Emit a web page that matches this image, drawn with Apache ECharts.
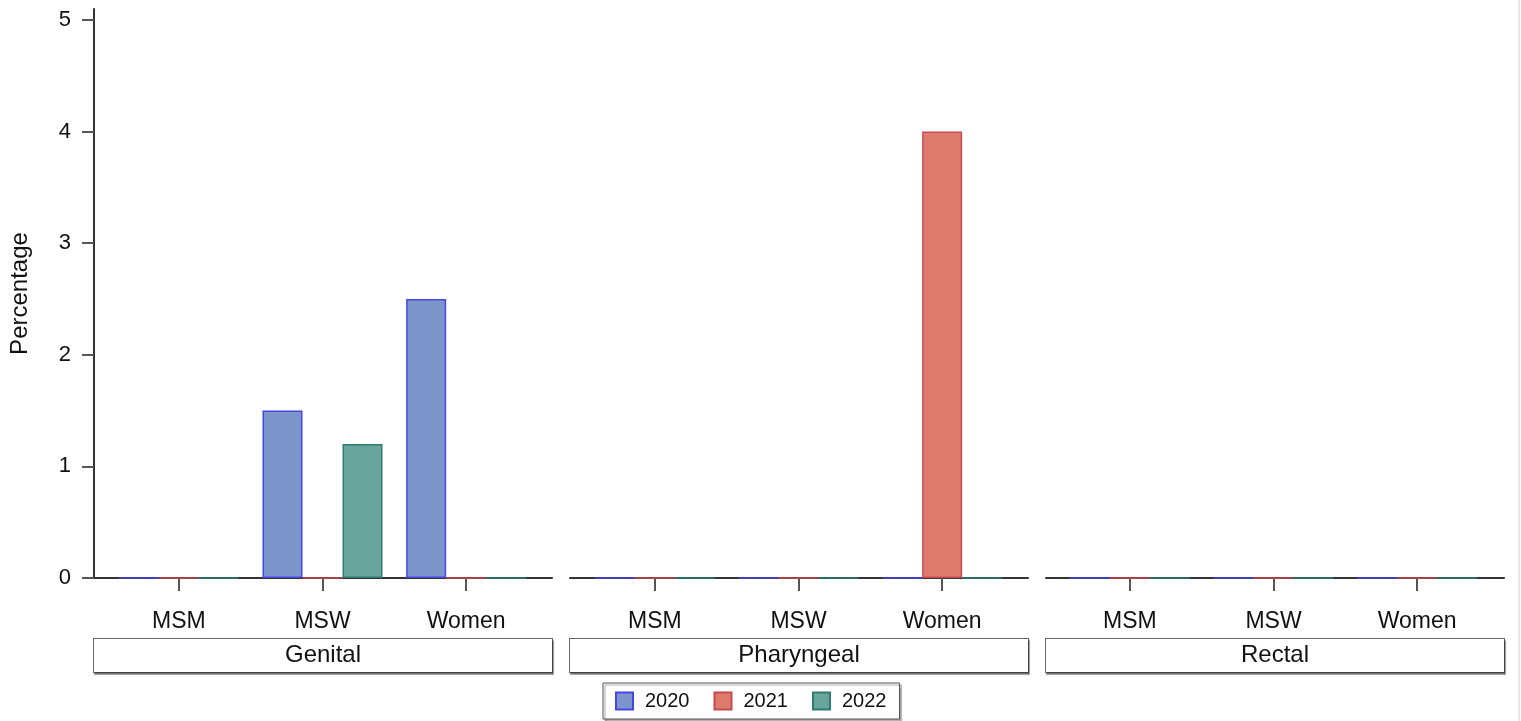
<!DOCTYPE html>
<html>
<head>
<meta charset="utf-8">
<script src="https://cdn.jsdelivr.net/npm/echarts@6/dist/echarts.min.js"></script>
<style>
html,body{margin:0;padding:0;background:#fff;}
#chart{width:1518px;height:721px;border-right:2px solid #e6e6e6;}
</style>
</head>
<body>
<div id="chart"></div>
<script>
// ---- data ----
const categories = ['MSM', 'MSW', 'Women'];
const panels = ['Genital', 'Pharyngeal', 'Rectal'];
const years = ['2020', '2021', '2022'];
const yTicks = [0, 1, 2, 3, 4, 5];

const genital2020 = [0, 1.5, 2.5];
const genital2021 = [0, 0, 0];
const genital2022 = [0, 1.2, 0];
const pharyngeal2020 = [0, 0, 0];
const pharyngeal2021 = [0, 0, 4];
const pharyngeal2022 = [0, 0, 0];
const rectal2020 = [0, 0, 0];
const rectal2021 = [0, 0, 0];
const rectal2022 = [0, 0, 0];

const panelData = [
  [genital2020, genital2021, genital2022],
  [pharyngeal2020, pharyngeal2021, pharyngeal2022],
  [rectal2020, rectal2021, rectal2022]
];

// ---- styles ----
const FONT = 'Liberation Sans, Arial, sans-serif';
const fills = ['#7c96cb', '#dd7c6c', '#67a59d'];
const borders = ['#4646e6', '#c94a4e', '#2e7d71'];
const axisColor = '#333333';

const innerLeft = [107, 583, 1058];
const outerLeft = [94, 570, 1046];

const grid = [], xAxis = [], yAxis = [], series = [];
panels.forEach((p, i) => {
  grid.push({left: outerLeft[i], top: 9, width: 458, height: 569, containLabel: false});
  grid.push({left: innerLeft[i], top: 20, width: 431, height: 558, containLabel: false});
  const gOuter = i * 2, gInner = i * 2 + 1;
  xAxis.push({
    gridIndex: gOuter, type: 'value', min: 0, max: 1,
    axisLine: {show: true, lineStyle: {color: axisColor, width: 2}},
    axisTick: {show: false}, axisLabel: {show: false}, splitLine: {show: false},
    name: '{box|' + p + '}', nameLocation: 'middle', nameGap: 61,
    nameTextStyle: {
      rich: {
        box: {
          fontFamily: FONT, fontSize: 24, color: '#111',
          width: 458, height: 33, lineHeight: 33, align: 'center', verticalAlign: 'middle',
          borderColor: '#666', borderWidth: 1, backgroundColor: '#fff',
          shadowColor: 'rgba(0,0,0,0.35)', shadowOffsetX: 1, shadowOffsetY: 2, shadowBlur: 1
        }
      }
    }
  });
  yAxis.push({
    gridIndex: gOuter, type: 'value', min: 0, max: 1,
    show: i === 0,
    axisLine: {show: true, lineStyle: {color: axisColor, width: 2}},
    axisTick: {show: false}, axisLabel: {show: false}, splitLine: {show: false},
    name: i === 0 ? 'Percentage' : '', nameLocation: 'middle', nameGap: 62, nameRotate: 90,
    nameTextStyle: {fontFamily: FONT, fontSize: 24, color: '#111'}
  });
  xAxis.push({
    gridIndex: gInner, type: 'category', data: categories,
    axisLine: {show: false},
    axisTick: {show: true, alignWithLabel: true, length: 13, lineStyle: {color: '#555', width: 2}},
    axisLabel: {fontFamily: FONT, fontSize: 23, color: '#111', margin: 32},
    splitLine: {show: false}
  });
  yAxis.push({
    gridIndex: gInner, type: 'value', min: 0, max: 5, interval: 1,
    show: i === 0, offset: 13,
    axisLine: {show: false},
    axisTick: {show: true, length: 12, lineStyle: {color: '#555', width: 2}},
    axisLabel: {fontFamily: FONT, fontSize: 22, color: '#111', margin: 23,
      formatter: v => yTicks.includes(v) ? String(v) : ''},
    splitLine: {show: false}
  });
  years.forEach((yr, k) => {
    series.push({
      name: yr, type: 'bar',
      xAxisIndex: i * 2 + 1, yAxisIndex: i * 2 + 1,
      data: panelData[i][k],
      barWidth: 40, barGap: '0%',
      itemStyle: {color: fills[k], borderColor: borders[k], borderWidth: 1.5},
      emphasis: {disabled: true},
      animation: false
    });
  });
});

const chart = echarts.init(document.getElementById('chart'), null, {renderer: 'canvas'});
chart.setOption({
  animation: false,
  backgroundColor: '#fff',
  grid, xAxis, yAxis, series,
  legend: {
    data: years,
    left: 603, top: 683,
    orient: 'horizontal',
    itemWidth: 17, itemHeight: 17, itemGap: 24,
    padding: [8, 13, 8, 12],
    borderColor: '#555', borderWidth: 1,
    backgroundColor: '#fff',
    shadowColor: 'rgba(0,0,0,0.35)', shadowOffsetX: 2, shadowOffsetY: 2, shadowBlur: 1,
    icon: 'rect',
    textStyle: {fontFamily: FONT, fontSize: 20, color: '#111', padding: [0, 0, 0, 7]}
  }
});
</script>
</body>
</html>
